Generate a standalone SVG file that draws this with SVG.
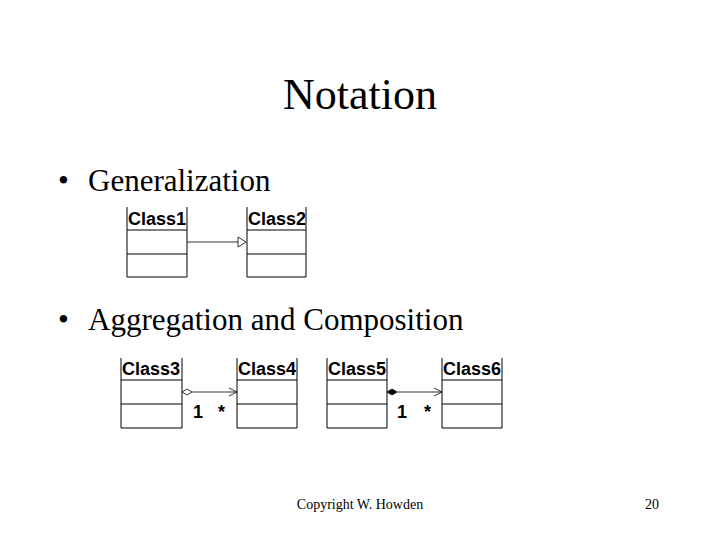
<svg xmlns="http://www.w3.org/2000/svg" width="720" height="540" viewBox="0 0 720 540">
<style>
.t{font-family:"Liberation Serif",serif;fill:#000}
.cn{font-family:"Liberation Sans",Arial,sans-serif;font-weight:bold;font-size:18px;fill:#000}
.bx{fill:none;stroke:#000;stroke-width:1}
.ln{stroke:#000;stroke-width:0.8;fill:none}
</style>
<rect width="720" height="540" fill="#fff"/>
<text class="t" x="360" y="109" font-size="44" text-anchor="middle">Notation</text>
<text class="t" x="58" y="191" font-size="31">•</text>
<text class="t" x="88" y="191" font-size="31">Generalization</text>
<text class="t" x="58" y="330" font-size="31">•</text>
<text class="t" x="88" y="330" font-size="31">Aggregation and Composition</text>
<g id="class1"><path class="bx" d="M127,207V277H187V207M127,230H187M127,254H187"/><text class="cn" x="128" y="225">Class1</text></g>
<g id="class2"><path class="bx" d="M247,207V277H306V207M247,230H306M247,254H306"/><text class="cn" x="248" y="225">Class2</text></g>
<g id="class3"><path class="bx" d="M121,358V428H182V358M121,380H182M121,404H182"/><text class="cn" x="122" y="375">Class3</text></g>
<g id="class4"><path class="bx" d="M237,358V428H297V358M237,380H297M237,404H297"/><text class="cn" x="238" y="375">Class4</text></g>
<g id="class5"><path class="bx" d="M327,358V428H387V358M327,380H387M327,404H387"/><text class="cn" x="328" y="375">Class5</text></g>
<g id="class6"><path class="bx" d="M442,358V428H502V358M442,380H502M442,404H502"/><text class="cn" x="443" y="375">Class6</text></g>
<g id="connectors">
<path class="ln" d="M187,242H238"/>
<path d="M238,237L246,242L238,247Z" fill="#fff" stroke="#000" stroke-width="0.8"/>
<path class="ln" d="M192,392H237M229,388L237,392L229,396"/>
<path d="M182,392L187,389L192,392L187,395Z" fill="#fff" stroke="#000" stroke-width="0.8"/>
<path class="ln" d="M397,392H442M434,388L442,392L434,396"/>
<path d="M387,392L392,389L397,392L392,395Z" fill="#000" stroke="#000" stroke-width="0.8"/>
<text class="cn" x="193" y="418">1</text>
<text class="cn" x="218" y="418">*</text>
<text class="cn" x="397" y="418">1</text>
<text class="cn" x="424" y="418">*</text>
</g>
<text class="t" x="360" y="509" font-size="14" text-anchor="middle">Copyright W. Howden</text>
<text class="t" x="659" y="509" font-size="14" text-anchor="end">20</text>
</svg>
